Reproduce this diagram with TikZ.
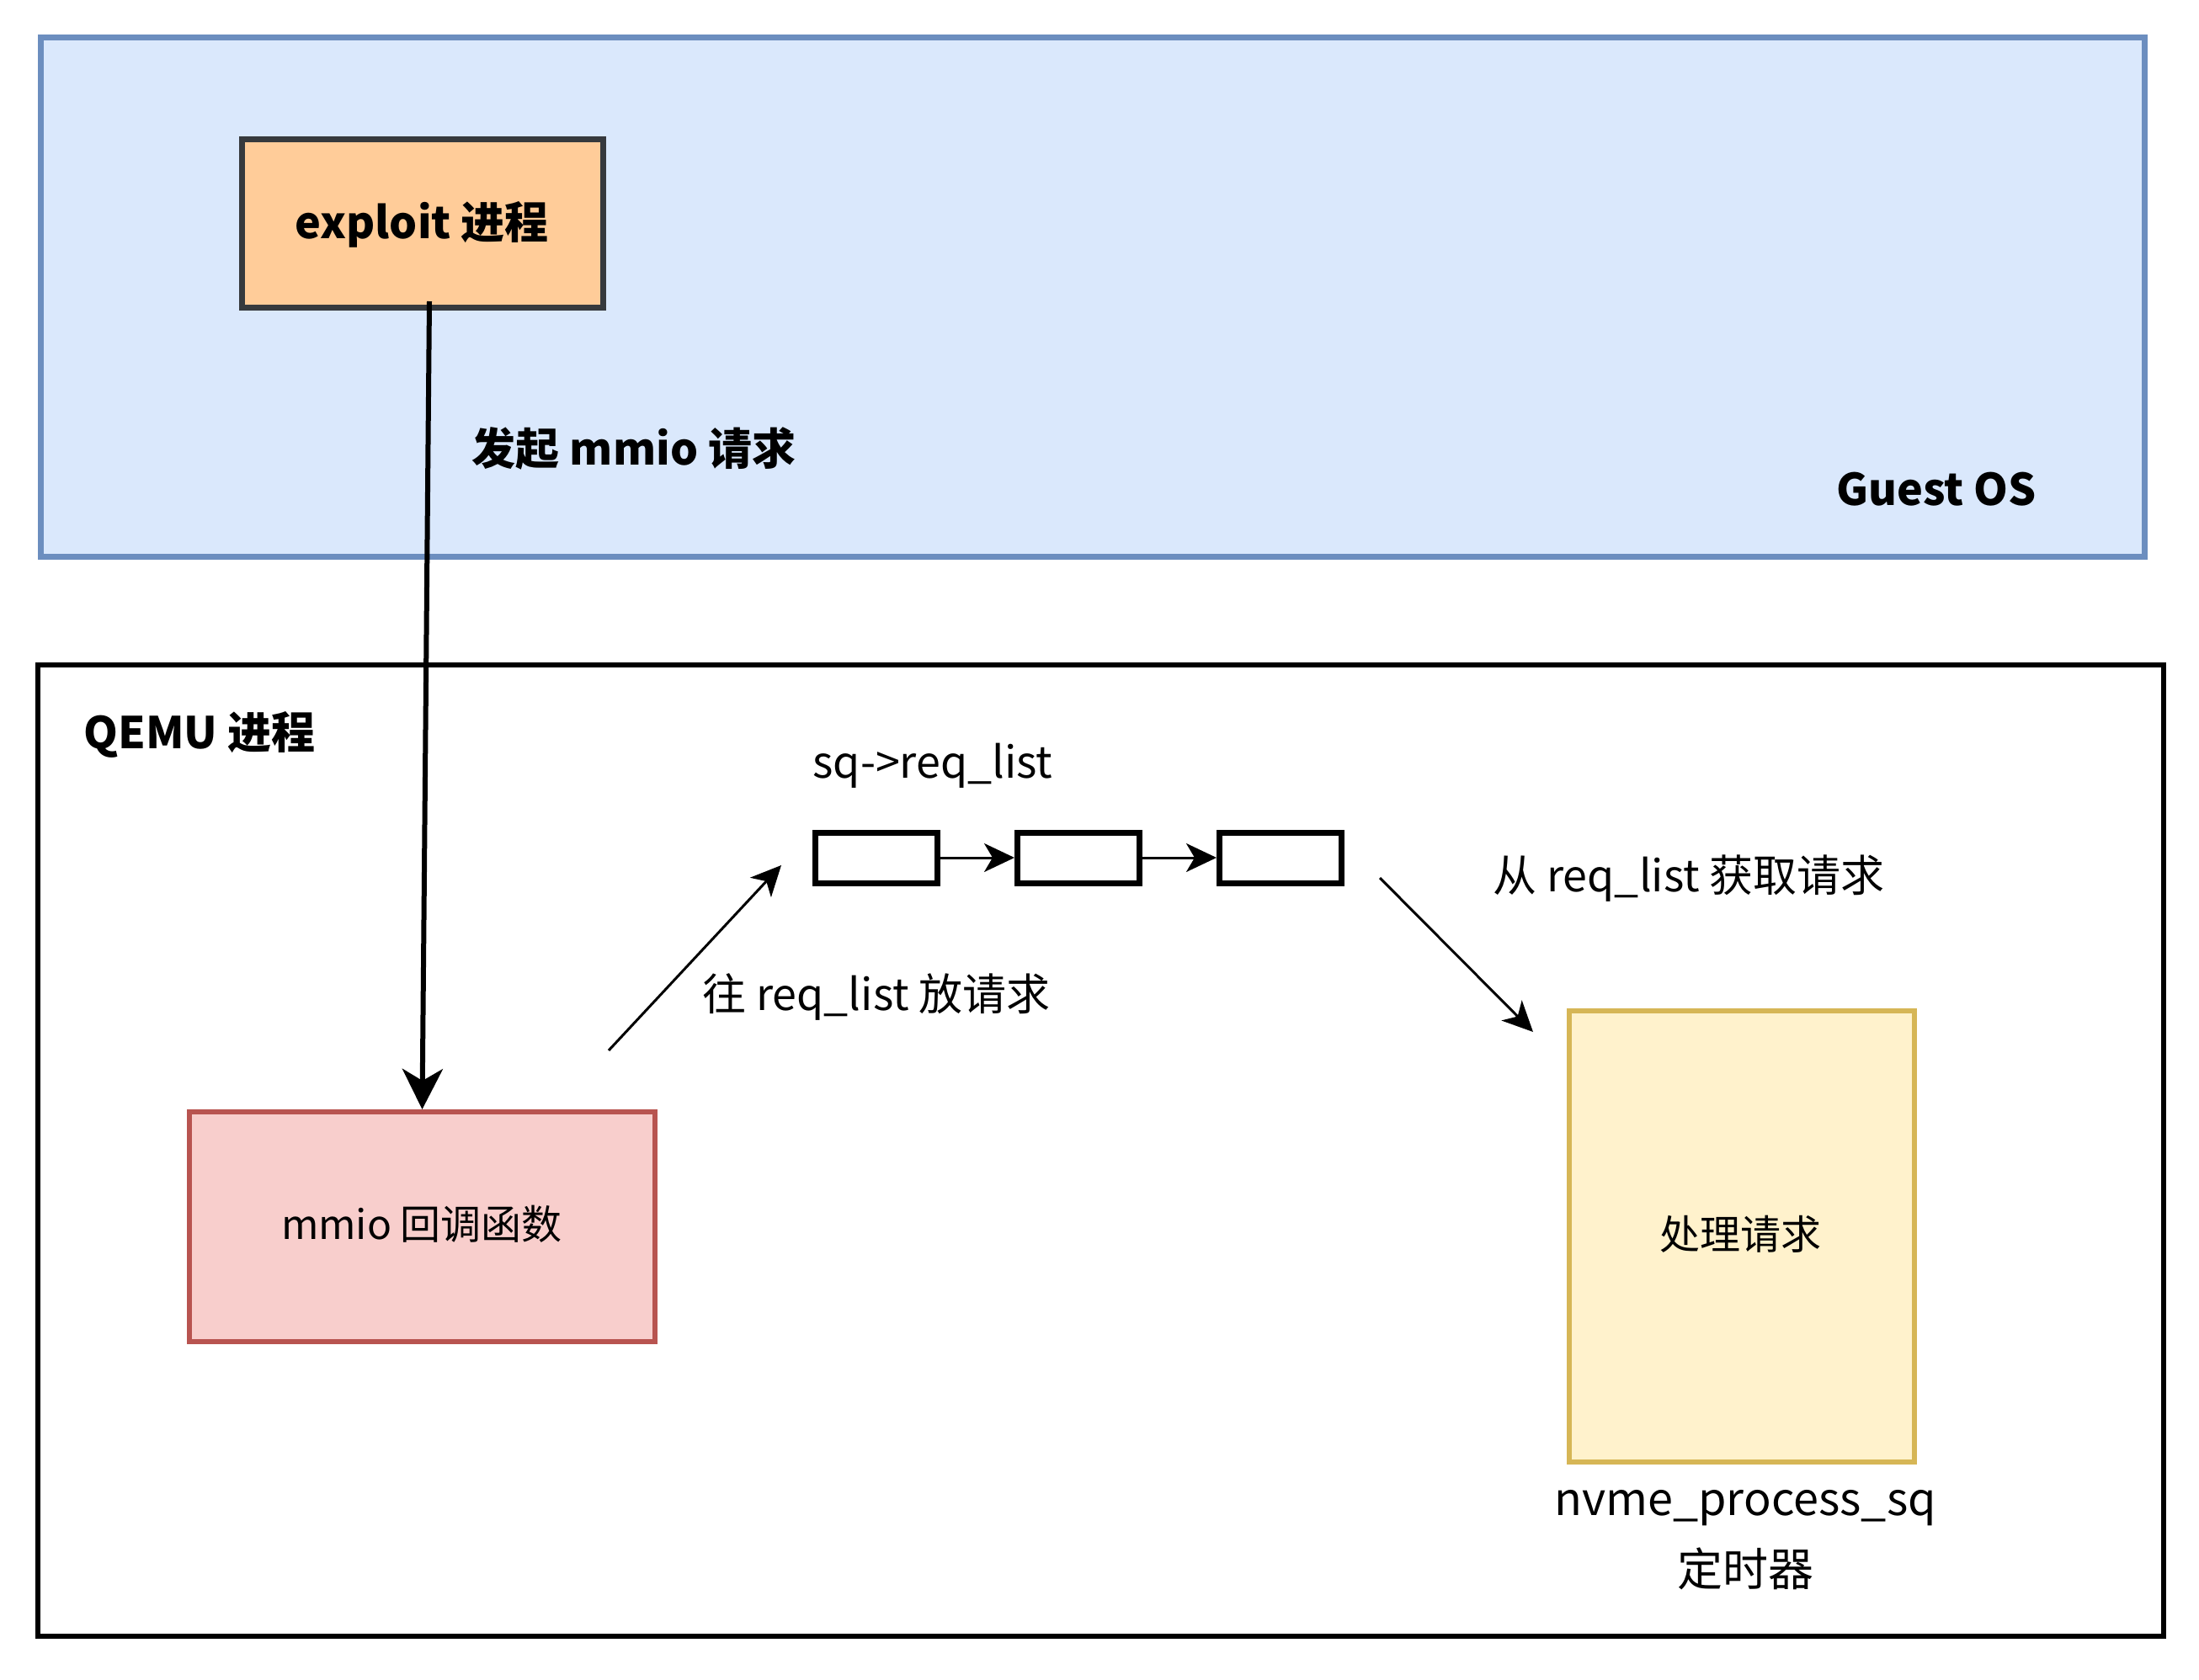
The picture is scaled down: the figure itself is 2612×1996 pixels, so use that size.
\documentclass[tikz,border=0pt]{standalone}
\usepackage{fontspec}
\setmainfont{Noto Sans CJK SC}
\usetikzlibrary{arrows.meta}
\definecolor{gfill}{HTML}{DAE8FC}
\definecolor{gline}{HTML}{6C8EBF}
\definecolor{ofill}{HTML}{FFCC99}
\definecolor{oline}{HTML}{36393D}
\definecolor{rfill}{HTML}{F8CECC}
\definecolor{rline}{HTML}{B85450}
\definecolor{yfill}{HTML}{FFF2CC}
\definecolor{yline}{HTML}{D6B656}
\tikzset{
  lab/.style={font=\fontsize{26pt}{31pt}\selectfont, inner sep=0pt, text=black},
  blab/.style={font=\fontsize{26pt}{31pt}\selectfont\bfseries, inner sep=0pt, text=black},
  slab/.style={font=\fontsize{24pt}{29pt}\selectfont, inner sep=0pt, text=black},
  boxbase/.style={rectangle, inner sep=0pt},
  listbox/.style={boxbase, draw=black, fill=white, line width=3.5pt, minimum width=72.5pt, minimum height=30pt},
  thickarrow/.style={line width=3pt, -{Stealth[length=24pt, width=24pt, inset=7pt]}},
  thinarrow/.style={line width=1.5pt, -{Stealth[length=18pt, width=17pt, inset=5pt]}},
}
\begin{document}
\begin{tikzpicture}[x=0.5pt,y=-0.5pt]
\useasboundingbox (0,0) rectangle (2612,1996);
% Guest OS box
\node[boxbase, draw=gline, fill=gfill, line width=3.5pt, minimum width=1249.5pt, minimum height=308pt] (guest) at (1297.5,353) {};
\node[blab] (guestlab) at (2300,581) {Guest OS};
\node[boxbase, draw=oline, fill=ofill, line width=3.5pt, minimum width=214.5pt, minimum height=100pt] (exploit) at (501.5,265) {};
\node[blab] (exploitlab) at (501,267) {exploit 进程};
\node[blab] (mmioreq) at (753,533) {发起 mmio 请求};
% QEMU box
\node[boxbase, draw=black, line width=3pt, minimum width=1262.5pt, minimum height=577pt] (qemu) at (1307.5,1367) {};
\node[blab] (qemulab) at (237,873) {QEMU 进程};
\node[boxbase, draw=rline, fill=rfill, line width=3pt, minimum width=276.5pt, minimum height=136.5pt] (mmio) at (501.5,1457.5) {};
\node[slab] (mmiolab) at (501,1454) {mmio 回调函数};
% list
\node[lab] (sqlab) at (1108,910) {sq->req\_list};
\node[listbox] (l1) at (1041,1019) {};
\node[listbox] (l2) at (1281,1019) {};
\node[listbox] (l3) at (1521,1019) {};
\draw[thinarrow] (l1.east) -- (l2.west);
\draw[thinarrow] (l2.east) -- (l3.west);
% process box
\node[boxbase, draw=yline, fill=yfill, line width=3pt, minimum width=205pt, minimum height=268pt] (proc) at (2069,1469) {};
\node[slab] (proclab) at (2067,1466) {处理请求};
\node[lab, font=\fontsize{27pt}{42pt}\selectfont, align=center] (nvmelab) at (2073,1830) {nvme\_process\_sq\\定时器};
% arrows
\coordinate (a0) at (510,358);
\draw[thickarrow] (a0) -- (mmio.north);
\coordinate (p1) at (723,1248);
\coordinate (p2) at (928,1028);
\draw[thinarrow] (p1) -- (p2);
\node[lab] (putlab) at (1041,1184) {往 req\_list 放请求};
\coordinate (q1) at (1639,1043);
\coordinate (q2) at (1821,1226);
\draw[thinarrow] (q1) -- (q2);
\node[lab] (getlab) at (2006,1044) {从 req\_list 获取请求};
\end{tikzpicture}
\end{document}
